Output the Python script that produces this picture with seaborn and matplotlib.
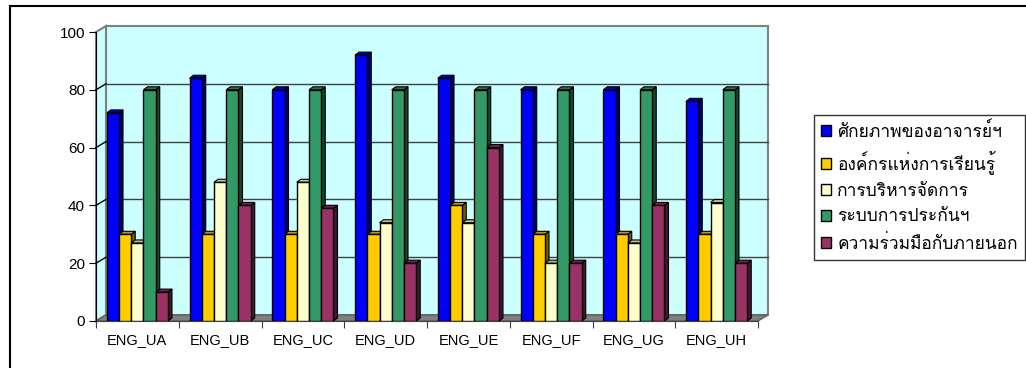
import matplotlib
matplotlib.use("Agg")
import matplotlib.pyplot as plt
import seaborn as sns
import pandas as pd
import numpy as np
from matplotlib.patches import Polygon, Rectangle

# data
categories = ["ENG_UA", "ENG_UB", "ENG_UC", "ENG_UD", "ENG_UE", "ENG_UF", "ENG_UG", "ENG_UH"]
series_names = ["ศักยภาพของอาจารย์ฯ", "องค์กรแห่งการเรียนรู้", "การบริหารจัดการ",
                "ระบบการประกันฯ", "ความร่วมมือกับภายนอก"]
s_teacher = [72, 84, 80, 92, 84, 80, 80, 76]
s_learning = [30, 30, 30, 30, 40, 30, 30, 30]
s_manage = [27, 48, 48, 34, 34, 20, 27, 41]
s_quality = [80, 80, 80, 80, 80, 80, 80, 80]
s_external = [10, 40, 39, 20, 60, 20, 40, 20]
y_ticks = [0, 20, 40, 60, 80, 100]
colors = ["#0000FF", "#FFCC00", "#FFFFCC", "#339966", "#993366"]

df = pd.DataFrame({"cat": categories * 5,
                   "series": np.repeat(series_names, len(categories)),
                   "value": s_teacher + s_learning + s_manage + s_quality + s_external})

W, H = 1026, 368
fig = plt.figure(figsize=(W / 100, H / 100), dpi=100)
ax = fig.add_axes([96 / W, 1 - 321 / H, 662 / W, 289 / H])
ax.set_facecolor("none")

sns.barplot(data=df, x="cat", y="value", hue="series", palette=colors, width=0.74,
            gap=0, saturation=1, edgecolor="black", linewidth=1, legend=False, ax=ax)
ax.set_xlim(-0.5, 7.5)
ax.set_ylim(0, 100)

inv = ax.transData.inverted()
DX, DY = 10, 6  # depth of the walls in pixels


def shift(x, y, dx, dy):
    px, py = ax.transData.transform((x, y))
    return inv.transform((px + dx, py + dy))


# back wall, left wall, floor
p = [shift(-0.5, 0, DX, DY), shift(7.5, 0, DX, DY), shift(7.5, 100, DX, DY), shift(-0.5, 100, DX, DY)]
ax.add_patch(Polygon(p, closed=True, facecolor="#CCFFFF", edgecolor="#808080", lw=1.5, zorder=1,
                     clip_on=False))
p = [(-0.5, 0), shift(-0.5, 0, DX, DY), shift(-0.5, 100, DX, DY), (-0.5, 100)]
ax.add_patch(Polygon(p, closed=True, facecolor="#CCFFFF", edgecolor="#808080", lw=1.5, zorder=1,
                     clip_on=False))
p = [(-0.5, 0), (7.5, 0), shift(7.5, 0, DX, DY), shift(-0.5, 0, DX, DY)]
ax.add_patch(Polygon(p, closed=True, facecolor="#808080", edgecolor="#606060", lw=1, zorder=2,
                     clip_on=False))
for t in y_ticks[1:-1]:
    a = shift(-0.5, t, DX, DY)
    b = shift(7.5, t, DX, DY)
    ax.plot([-0.5, a[0]], [t, a[1]], color="black", lw=1, zorder=2, clip_on=False)
    ax.plot([a[0], b[0]], [a[1], b[1]], color="#404040", lw=1, zorder=2, clip_on=False)

# 3d sides and tops of the bars, drawn left to right so the next bar hides the side
bars = [r for r in ax.patches if isinstance(r, Rectangle) and r.get_height() > 0 and r.get_width() < 1]
bars.sort(key=lambda r: r.get_x())
bx, by = 4, 3
for k, r in enumerate(bars):
    x0, w, h = r.get_x(), r.get_width(), r.get_height()
    c = np.array(matplotlib.colors.to_rgb(r.get_facecolor()))
    side = [(x0 + w, 0), (x0 + w, h), shift(x0 + w, h, bx, by), shift(x0 + w, 0, bx, by)]
    top = [(x0, h), (x0 + w, h), shift(x0 + w, h, bx, by), shift(x0, h, bx, by)]
    ax.add_patch(Polygon(side, closed=True, facecolor=c * 0.45, edgecolor="black", lw=0.8,
                         zorder=10 + 2 * k, clip_on=False))
    ax.add_patch(Polygon(top, closed=True, facecolor=c * 0.75, edgecolor="black", lw=0.8,
                         zorder=10 + 2 * k, clip_on=False))
    r.set_zorder(11 + 2 * k)

# axes look
sns.despine(ax=ax, top=True, right=True)
ax.spines["left"].set_zorder(50)
ax.spines["bottom"].set_color("#404040")
ax.set_yticks(y_ticks)
ax.set_xticks(np.arange(-0.5, 8, 1), labels=[""] * 9)
ax.set_xticks(range(len(categories)), labels=categories, minor=True)
ax.tick_params(axis="x", which="major", length=5, color="#404040")
ax.tick_params(axis="x", which="minor", length=0, pad=9, labelsize=10.5)
ax.tick_params(axis="y", length=5, labelsize=11, pad=3)
ax.set_xlabel("")
ax.set_ylabel("")
for lab in ax.get_xticklabels(minor=True) + ax.get_yticklabels():
    lab.set_fontfamily("Liberation Sans")

# legend
handles = [Rectangle((0, 0), 1, 1, facecolor=c, edgecolor="black", lw=1) for c in colors]
leg = fig.legend(handles, series_names, loc="upper left", bbox_to_anchor=(814 / W, 1 - 115 / H),
                 frameon=True, fancybox=False, edgecolor="black", handlelength=0.6, handleheight=0.6,
                 handletextpad=0.35, labelspacing=0.55, borderpad=0.4, borderaxespad=0,
                 prop={"family": ["Loma", "DejaVu Sans"], "size": 12.5})
leg.get_frame().set_linewidth(1)

# outer border
fig.add_artist(Rectangle((10 / W, -0.5), 2, 1.5 - 6 / H, transform=fig.transFigure, fill=False,
                         edgecolor="black", lw=1.5))

fig.savefig("out.png", dpi=100)
